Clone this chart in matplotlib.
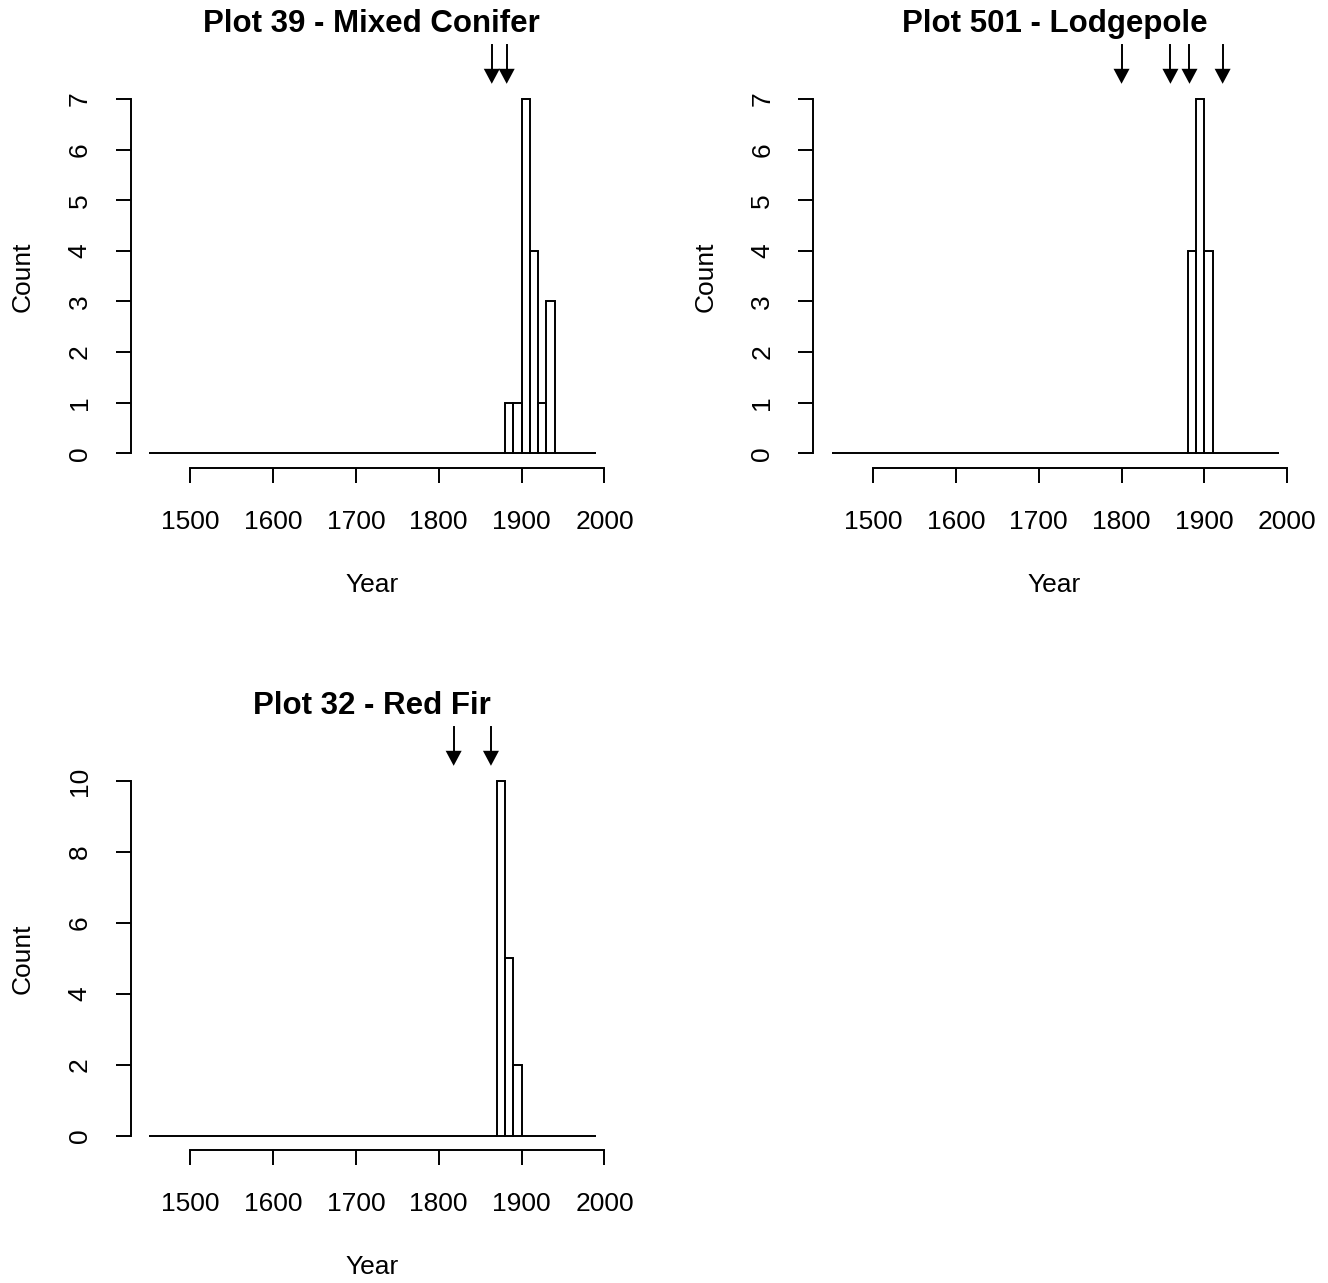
import numpy as np
import matplotlib
matplotlib.use("Agg")
import matplotlib.pyplot as plt

# ---------------- data ----------------
break_start = 1450
break_end = 1990
bin_width = 10

plot39_title = "Plot 39 - Mixed Conifer"
plot39_bins = [1880, 1890, 1900, 1910, 1920, 1930]
plot39_counts = [1, 1, 7, 4, 1, 3]
plot39_arrows = [1864, 1882]

plot501_title = "Plot 501 - Lodgepole"
plot501_bins = [1880, 1890, 1900]
plot501_counts = [4, 7, 4]
plot501_arrows = [1800, 1859, 1882, 1922]

plot32_title = "Plot 32 - Red Fir"
plot32_bins = [1870, 1880, 1890]
plot32_counts = [10, 5, 2]
plot32_arrows = [1818, 1863]

x_ticks = [1500, 1600, 1700, 1800, 1900, 2000]
y_ticks_small = [0, 1, 2, 3, 4, 5, 6, 7]
y_ticks_large = [0, 2, 4, 6, 8, 10]

x_label = "Year"
y_label = "Count"

# ---------------- layout ----------------
W, H = 1328, 1283
plt.rcParams['font.family'] = ['Liberation Sans', 'DejaVu Sans']
fig = plt.figure(figsize=(W / 100, H / 100), dpi=100)

LW = 1.4
TICK_FS = 19
TITLE_FS = 22.5
PX_PER_YEAR = 0.8286


def add_ax(l, t, r, b):
    return fig.add_axes([l / W, 1 - b / H, (r - l) / W, (b - t) / H])


panels = [
    dict(title=plot39_title, bins=plot39_bins, counts=plot39_counts,
         arrows=plot39_arrows, yticks=y_ticks_small, ylim=(-0.3, 7.28),
         box=(130.5, 84.8, 622.7, 468.5)),
    dict(title=plot501_title, bins=plot501_bins, counts=plot501_counts,
         arrows=plot501_arrows, yticks=y_ticks_small, ylim=(-0.3, 7.28),
         box=(813.3, 84.8, 1305.5, 468.5)),
    dict(title=plot32_title, bins=plot32_bins, counts=plot32_counts,
         arrows=plot32_arrows, yticks=y_ticks_large, ylim=(-0.415, 10.4),
         box=(130.5, 766.8, 622.7, 1150.4)),
]

left_edges = np.arange(break_start, break_end, bin_width)

for p in panels:
    l, t, r, b = p['box']
    w, h = r - l, b - t
    ax = add_ax(l, t, r, b)
    ax.set_xlim(1428, 2022)
    ax.set_ylim(*p['ylim'])

    lookup = dict(zip(p['bins'], p['counts']))
    counts = [lookup.get(e, 0) for e in left_edges]
    ax.bar(left_edges, counts, width=bin_width, align='edge', fill=False,
           edgecolor='black', linewidth=LW)

    for s in ['top', 'right']:
        ax.spines[s].set_visible(False)
    ax.spines['left'].set_bounds(p['yticks'][0], p['yticks'][-1])
    ax.spines['bottom'].set_bounds(x_ticks[0], x_ticks[-1])
    for s in ['left', 'bottom']:
        ax.spines[s].set_linewidth(LW)

    ax.set_xticks(x_ticks)
    ax.set_yticks(p['yticks'])
    ax.tick_params(axis='both', length=11, width=LW, labelsize=TICK_FS)
    ax.tick_params(axis='x', pad=19)
    ax.tick_params(axis='y', pad=17)
    for lab in ax.get_yticklabels():
        lab.set_rotation(90)
        lab.set_va('center')
        lab.set_ha('right')

    # arrows above the plot
    xt = ax.get_xaxis_transform()
    hw = 8.0 / PX_PER_YEAR
    tip = 1 + 1 / h
    head = 1 + 16 / h
    top = 1 + 40 / h
    for a in p['arrows']:
        ax.plot([a, a], [head, top], transform=xt, clip_on=False,
                color='black', lw=LW)
        ax.fill([a - hw, a + hw, a], [head, head, tip], transform=xt,
                clip_on=False, color='black', lw=0)

    ax.text(0.49, 1 + 53 / h, p['title'], transform=ax.transAxes,
            ha='center', va='baseline', fontsize=TITLE_FS, fontweight='bold')
    ax.text(0.49, -116.5 / h, x_label, transform=ax.transAxes,
            ha='center', va='center', fontsize=TICK_FS)
    ax.text(-108 / w, 0.5, y_label, transform=ax.transAxes, rotation=90,
            ha='center', va='center', fontsize=TICK_FS)

fig.savefig("out.png", dpi=100)
